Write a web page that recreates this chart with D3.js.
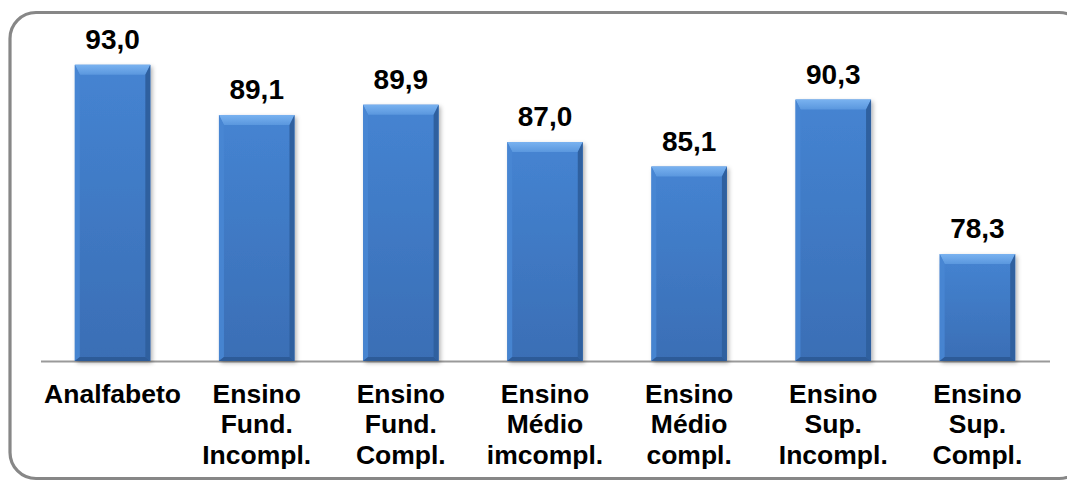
<!DOCTYPE html>
<html>
<head>
<meta charset="utf-8">
<script src="https://cdn.jsdelivr.net/npm/d3@7"></script>
<style>
  html, body { margin: 0; padding: 0; background: #fff; }
  svg { display: block; }
  text { font-family: "Liberation Sans", Arial, sans-serif; font-weight: bold; fill: #000; }
</style>
</head>
<body>
<svg id="chart" width="1067" height="482"></svg>
<script>
const categories = [
  ["Analfabeto"],
  ["Ensino", "Fund.", "Incompl."],
  ["Ensino", "Fund.", "Compl."],
  ["Ensino", "Médio", "imcompl."],
  ["Ensino", "Médio", "compl."],
  ["Ensino", "Sup.", "Incompl."],
  ["Ensino", "Sup.", "Compl."]
];
const values = [93.0, 89.1, 89.9, 87.0, 85.1, 90.3, 78.3];
const valueLabels = ["93,0", "89,1", "89,9", "87,0", "85,1", "90,3", "78,3"];
const yDomain = [70, 95];

const svg = d3.select("#chart");
const defs = svg.append("defs");

const face = defs.append("linearGradient").attr("id", "face").attr("x1", 0).attr("y1", 0).attr("x2", 0).attr("y2", 1);
face.append("stop").attr("offset", "0%").attr("stop-color", "#4584d2");
face.append("stop").attr("offset", "100%").attr("stop-color", "#3a6eb5");
const topG = defs.append("linearGradient").attr("id", "topb").attr("x1", 0).attr("y1", 0).attr("x2", 0).attr("y2", 1);
topG.append("stop").attr("offset", "0%").attr("stop-color", "#79b2f0");
topG.append("stop").attr("offset", "100%").attr("stop-color", "#5a97de");
const shadow = defs.append("filter").attr("id", "shadow").attr("x", "-20%").attr("y", "-20%").attr("width", "150%").attr("height", "150%");
shadow.append("feDropShadow").attr("dx", 2).attr("dy", 2).attr("stdDeviation", 2).attr("flood-color", "#000").attr("flood-opacity", 0.3);

// frame
svg.append("rect")
  .attr("x", 10).attr("y", 12.5).attr("width", 1075).attr("height", 466)
  .attr("rx", 26).attr("ry", 26)
  .attr("fill", "none").attr("stroke", "#878787").attr("stroke-width", 3.2);

const x = d3.scaleBand()
  .domain(d3.range(values.length))
  .range([40.5, 1049.5])
  .paddingInner(0.476)
  .paddingOuter(0.238);

const y = d3.scaleLinear().domain(yDomain).range([361, 39]);

// axis baseline
const xAxis = d3.axisBottom(x).tickSize(0).tickFormat("");
const axisG = svg.append("g").attr("transform", `translate(0,${y(yDomain[0])})`).call(xAxis);
axisG.select(".domain").attr("stroke", "#9a9a9a").attr("stroke-width", 2);

const bw = x.bandwidth();
const bt = 10, bs = 5, bb = 4;

const bars = svg.append("g").selectAll("g.bar").data(values).join("g").attr("class", "bar");
bars.each(function(v, i) {
  const g = d3.select(this);
  const x0 = x(i), x1 = x0 + bw, y0 = y(v), y1 = y(yDomain[0]);
  g.append("rect").attr("x", x0).attr("y", y0).attr("width", bw).attr("height", y1 - y0)
    .attr("fill", "url(#face)").attr("filter", "url(#shadow)");
  g.append("polygon").attr("points", [[x0, y0], [x1, y0], [x1 - bs, y0 + bt], [x0 + bs, y0 + bt]].join(" "))
    .attr("fill", "url(#topb)");
  g.append("polygon").attr("points", [[x0, y0], [x0 + bs, y0 + bt], [x0 + bs, y1 - bb], [x0, y1]].join(" "))
    .attr("fill", "#4886d3").attr("opacity", 0.9);
  g.append("polygon").attr("points", [[x1, y0], [x1 - bs, y0 + bt], [x1 - bs, y1 - bb], [x1, y1]].join(" "))
    .attr("fill", "#2f609f");
  g.append("polygon").attr("points", [[x0, y1], [x0 + bs, y1 - bb], [x1 - bs, y1 - bb], [x1, y1]].join(" "))
    .attr("fill", "#2d5b98");
});

// value labels
svg.append("g").selectAll("text").data(values).join("text")
  .attr("x", (d, i) => x(i) + bw / 2)
  .attr("y", d => y(d) - 16)
  .attr("text-anchor", "middle")
  .attr("font-size", 28)
  .text((d, i) => valueLabels[i]);

// category labels
const cat = svg.append("g").selectAll("text").data(categories).join("text")
  .attr("x", (d, i) => x(i) + bw / 2)
  .attr("y", 402.5)
  .attr("text-anchor", "middle")
  .attr("font-size", 26.5);
cat.each(function(lines, i) {
  d3.select(this).selectAll("tspan").data(lines).join("tspan")
    .attr("x", x(i) + bw / 2)
    .attr("dy", (d, j) => j === 0 ? 0 : 30.5)
    .text(d => d);
});
</script>
</body>
</html>
